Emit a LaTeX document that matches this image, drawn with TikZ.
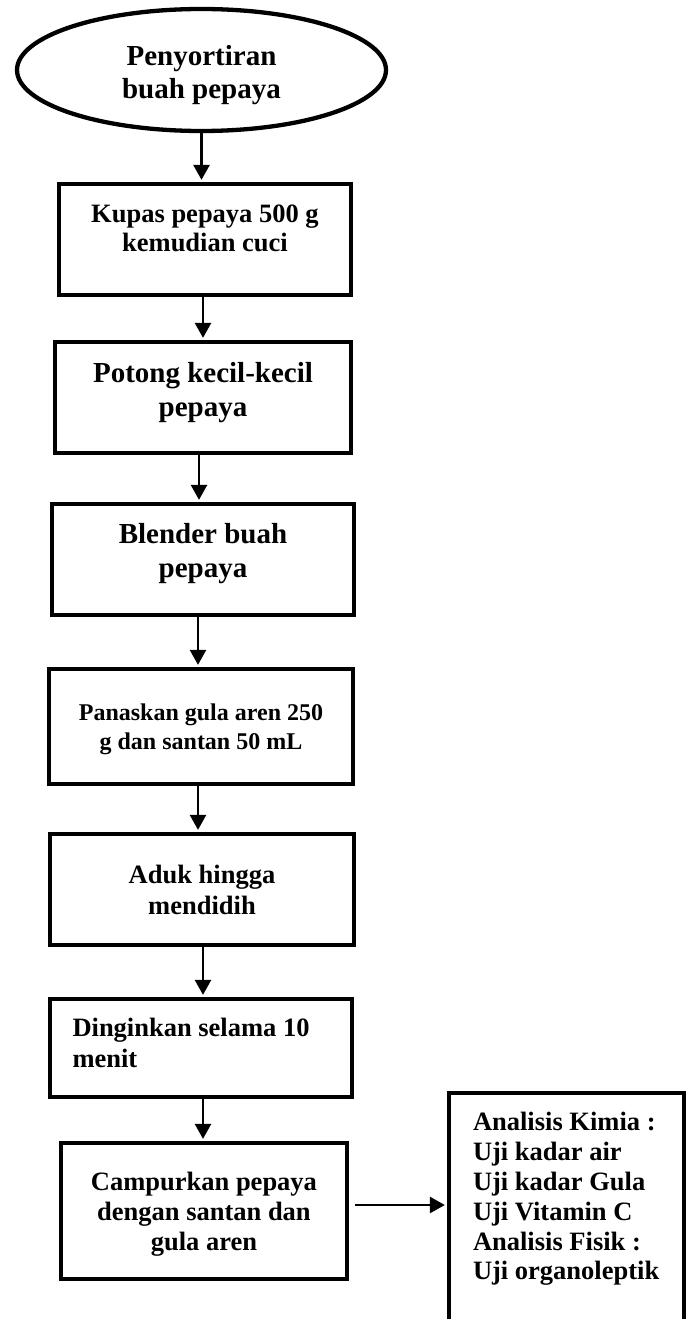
\documentclass[tikz,border=0pt]{standalone}
\usepackage{fontspec}
\setmainfont{Liberation Serif}
\usetikzlibrary{shapes.geometric,arrows.meta}
\newcommand\flowtext[5]{\begin{minipage}[c][#2][t]{#1}#4\vspace*{#3}#5\par\end{minipage}}
\tikzset{
  stepbox/.style={draw, line width=4.3pt, rectangle, inner sep=0pt},
  startshape/.style={draw, line width=4.3pt, ellipse, inner sep=0pt,
    minimum width=369pt, minimum height=122pt},
  flowarrow/.style={line width=2.6pt, -{Triangle[length=15pt,width=16pt]}, shorten >=2pt},
  big/.style={font={\bfseries\fontsize{29}{34}\selectfont}},
  mid/.style={font={\bfseries\fontsize{26.5}{30}\selectfont}},
  small/.style={font={\bfseries\fontsize{24}{29}\selectfont}},
}
\begin{document}
\begin{tikzpicture}[x=1pt,y=-1pt]
\useasboundingbox (0,0) rectangle (686,1319);
\node[startshape, font={\bfseries\fontsize{29}{33}\selectfont}] (e) at (201.5,70)
  {\flowtext{240pt}{80pt}{15.3pt}{\centering}{Penyortiran\\buah pepaya}};
\node[stepbox, font={\bfseries\fontsize{26.5}{29}\selectfont}] (b1) at (205,239.5)
  {\flowtext{292pt}{111pt}{20.7pt}{\centering}{Kupas pepaya 500 g\\kemudian cuci}};
\node[stepbox, big] (b2) at (203,397.5)
  {\flowtext{296pt}{111pt}{20pt}{\centering}{Potong kecil-kecil\\pepaya}};
\node[stepbox, big] (b3) at (203,559.5)
  {\flowtext{302pt}{111pt}{19pt}{\centering}{Blender buah\\pepaya}};
\node[stepbox, small] (b4) at (201,726.5)
  {\flowtext{304pt}{115pt}{34.7pt}{\centering}{Panaskan gula aren 250\\g dan santan 50 mL}};
\node[stepbox, font={\bfseries\fontsize{26.5}{30.7}\selectfont}] (b5) at (202,889.5)
  {\flowtext{304pt}{111pt}{31.3pt}{\centering}{Aduk hingga\\mendidih}};
\node[stepbox, font={\bfseries\fontsize{26.5}{30.7}\selectfont}] (b6) at (201,1048)
  {\flowtext{302pt}{98pt}{19pt}{\raggedright\leftskip=22.5pt}{Dinginkan selama 10\\menit}};
\node[stepbox, mid] (b7) at (204,1211)
  {\flowtext{286pt}{136pt}{29pt}{\centering}{Campurkan pepaya\\dengan santan dan\\gula aren}};
\node[stepbox, font={\bfseries\fontsize{26.5}{29.9}\selectfont}] (an) at (566.5,1216.5)
  {\flowtext{235pt}{247pt}{19pt}{\raggedright\leftskip=24pt}{Analisis Kimia :\\Uji kadar air\\Uji kadar Gula\\Uji Vitamin C\\Analisis Fisik :\\Uji organoleptik}};
\draw[flowarrow] (e.south) -- (e.south |- b1.north);
\draw[flowarrow] ([xshift=-2pt]b1.south) -- ([xshift=-2pt]b1.south |- b2.north);
\draw[flowarrow] ([xshift=-4pt]b2.south) -- ([xshift=-4pt]b2.south |- b3.north);
\draw[flowarrow] ([xshift=-5pt]b3.south) -- ([xshift=-5pt]b3.south |- b4.north);
\draw[flowarrow] ([xshift=-3pt]b4.south) -- ([xshift=-3pt]b4.south |- b5.north);
\draw[flowarrow] ([xshift=1pt]b5.south) -- ([xshift=1pt]b5.south |- b6.north);
\draw[flowarrow] ([xshift=2pt]b6.south) -- ([xshift=2pt]b6.south |- b7.north);
\draw[flowarrow, shorten <=6pt] ([yshift=6pt]b7.east) -- ([yshift=6pt]b7.east -| an.west);
\end{tikzpicture}
\end{document}
